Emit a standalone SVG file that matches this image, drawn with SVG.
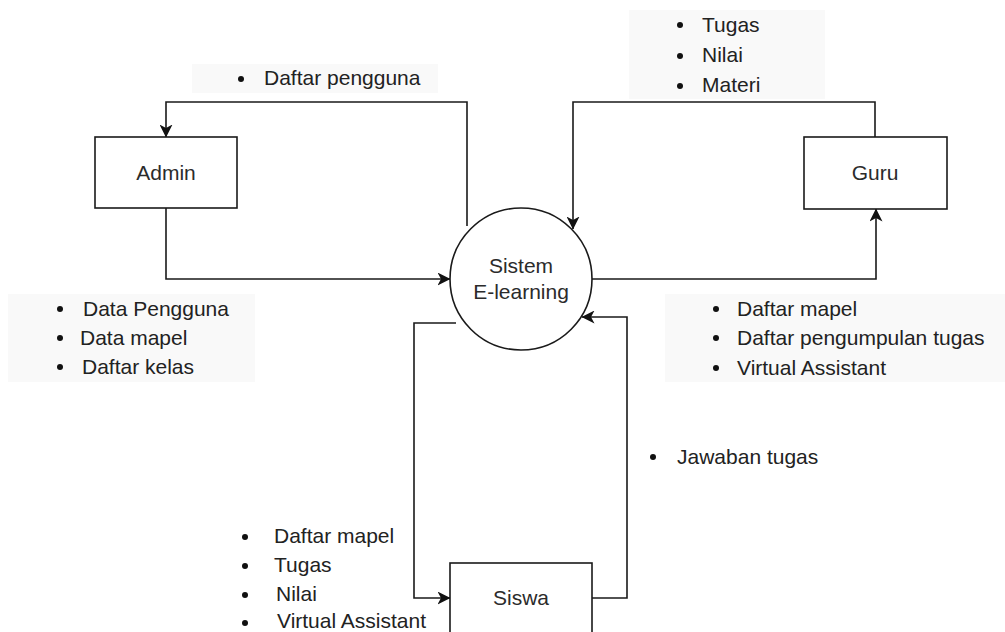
<svg xmlns="http://www.w3.org/2000/svg" width="1005" height="632" viewBox="0 0 1005 632">
  <style>
    .box { fill: #ffffff; stroke: #1a1a1a; stroke-width: 1.6; }
    .lbl { font-family: "Liberation Sans", Arial, sans-serif; font-size: 21px; fill: #2b2b2b; text-anchor: middle; }
    .item { font-family: "Liberation Sans", Arial, sans-serif; font-size: 21px; fill: #222222; }
    .dot { fill: #111111; }
    .panel { fill: #f9f9f9; }
    .flow { fill: none; stroke: #1a1a1a; stroke-width: 1.6; marker-end: url(#arrow); }
  </style>
  <defs>
    <marker id="arrow" markerUnits="userSpaceOnUse" viewBox="0 0 13 13" markerWidth="13" markerHeight="13" refX="12.5" refY="6.5" orient="auto">
      <path d="M0,0 L13,6.5 L0,13 L3.5,6.5 Z" fill="#111111"/>
    </marker>
  </defs>

  <rect width="1005" height="632" fill="#ffffff"/>

  <!-- data flow labels -->
  <g id="label-daftar-pengguna">
    <rect class="panel" x="192" y="64" width="246" height="29"/>
    <circle class="dot" cx="241" cy="79" r="3"/>
    <text class="item" x="264" y="85">Daftar pengguna</text>
  </g>
  <g id="label-guru-input">
    <rect class="panel" x="629" y="10" width="196" height="89"/>
    <circle class="dot" cx="680" cy="25" r="3"/>
    <text class="item" x="702" y="32">Tugas</text>
    <circle class="dot" cx="680" cy="56" r="3"/>
    <text class="item" x="702" y="62">Nilai</text>
    <circle class="dot" cx="680" cy="86" r="3"/>
    <text class="item" x="702" y="92">Materi</text>
  </g>
  <g id="label-admin-input">
    <rect class="panel" x="8" y="294" width="247" height="88"/>
    <circle class="dot" cx="60" cy="309" r="3"/>
    <text class="item" x="83" y="316">Data Pengguna</text>
    <circle class="dot" cx="60" cy="338" r="3"/>
    <text class="item" x="80" y="345">Data mapel</text>
    <circle class="dot" cx="60" cy="367" r="3"/>
    <text class="item" x="82" y="374">Daftar kelas</text>
  </g>
  <g id="label-guru-output">
    <rect class="panel" x="665" y="294" width="340" height="88"/>
    <circle class="dot" cx="716" cy="309" r="3"/>
    <text class="item" x="737" y="316">Daftar mapel</text>
    <circle class="dot" cx="716" cy="338" r="3"/>
    <text class="item" x="737" y="345">Daftar pengumpulan tugas</text>
    <circle class="dot" cx="716" cy="368" r="3"/>
    <text class="item" x="737" y="375">Virtual Assistant</text>
  </g>
  <g id="label-jawaban">
    <circle class="dot" cx="653" cy="457" r="3"/>
    <text class="item" x="677" y="464">Jawaban tugas</text>
  </g>
  <g id="label-siswa-output">
    <circle class="dot" cx="245" cy="537" r="3"/>
    <text class="item" x="274" y="543">Daftar mapel</text>
    <circle class="dot" cx="245" cy="566" r="3"/>
    <text class="item" x="274" y="572">Tugas</text>
    <circle class="dot" cx="245" cy="595" r="3"/>
    <text class="item" x="276" y="601">Nilai</text>
    <circle class="dot" cx="245" cy="623" r="3"/>
    <text class="item" x="277" y="628">Virtual Assistant</text>
  </g>

  <!-- connectors -->
  <g id="connectors">
    <path class="flow" d="M467,226 L467,102 L166,102 L166,137"/>
    <path class="flow" d="M166,208 L166,279 L450,279"/>
    <path class="flow" d="M875,137 L875,102 L573,102 L573,229"/>
    <path class="flow" d="M592,279 L876,279 L876,209"/>
    <path class="flow" d="M456,323 L414,323 L414,598 L450,598"/>
    <path class="flow" d="M592,598 L627,598 L627,317 L582,317"/>
  </g>

  <!-- nodes -->
  <g id="node-admin">
    <rect class="box" x="95" y="137" width="142" height="71"/>
    <text class="lbl" x="166" y="180">Admin</text>
  </g>
  <g id="node-guru">
    <rect class="box" x="804" y="137" width="143" height="72"/>
    <text class="lbl" x="875" y="180">Guru</text>
  </g>
  <g id="node-sistem">
    <circle class="box" cx="521" cy="279" r="71"/>
    <text class="lbl" x="521" y="273">Sistem</text>
    <text class="lbl" x="521" y="299">E-learning</text>
  </g>
  <g id="node-siswa">
    <rect class="box" x="450" y="563" width="142" height="71"/>
    <text class="lbl" x="521" y="605">Siswa</text>
  </g>
</svg>
